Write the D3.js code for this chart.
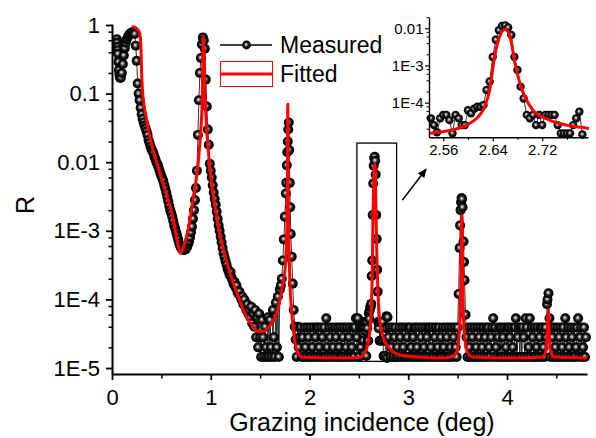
<!DOCTYPE html>
<html><head><meta charset="utf-8">
<script src="https://cdn.jsdelivr.net/npm/d3@7/dist/d3.min.js"></script>
<style>
html,body{margin:0;padding:0;background:#fff;}
svg{display:block;}
text{font-family:Arial,"Liberation Sans",Helvetica,sans-serif;fill:#000;}
</style></head><body>
<svg id="chart" width="596" height="438"></svg>
<script>
// ---------------- DATA ----------------
// Measured reflectivity, x = 0.05 ... 2.53 deg, step 0.01
const measuredStartA = 0.05, measuredStepA = 0.01;
const measuredA = [
 0.62,0.38,0.22,0.17,0.17,0.2,0.27,0.36,0.46,0.55,
 0.62,0.67,0.71,0.74,0.76,0.78,0.79,0.78,0.74,0.5,
 0.3,0.14,0.1,0.08,0.062,0.05,0.043,0.038,0.034,0.031,
 0.028,0.025,0.021,0.019,0.017,0.0155,0.0145,0.0135,0.012,0.011,
 0.01,0.0093,0.0086,0.0077,0.0069,0.0063,0.0058,0.0053,0.0046,0.0041,
 0.0036,0.0031,0.0027,0.0023,0.002,0.0018,0.0016,0.0014,0.0012,0.00108,
 0.00095,0.00085,0.00075,0.00066,0.0006,0.00056,0.00054,0.00053,0.00053,0.00053,
 0.00055,0.00058,0.00063,0.0007,0.0008,0.00095,0.00115,0.0015,0.002,0.0028,
 0.0042,0.0075,0.025,0.08,0.2,0.33,0.52,0.66,0.6,0.45,
 0.16,0.065,0.03,0.018,0.0095,0.0075,0.006,0.0046,0.0036,0.0029,
 0.0024,0.0019,0.0015,0.0012,0.001,0.00082,0.00068,0.00056,0.00047,0.00041,
 0.00036,0.00032,0.00028,0.00026,0.00023,0.00025,0.00021,0.00019,0.00017,0.00018,
 0.00015,0.00016,0.00013,0.00012,0.00013,0.00011,0.0001,0.00011,0.000085,0.0001,
 0.000078,0.00007,0.000085,0.000062,0.00007,0.000055,0.000078,0.000045,0.000062,0.00004,
 0.00007,0.000028,0.000055,0.00002,0.000062,0.000028,0.0000145,0.00005,0.000028,0.0000145,
 0.00004,0.00002,0.0000145,0.000055,0.0000145,0.00005,0.00002,0.0000145,0.00007,0.000028,
 0.0000145,0.00009,0.00002,0.00011,0.0000145,0.00014,0.00016,0.0002,0.00037,0.00075,
 0.0016,0.0035,0.009,0.02,0.038,0.005,0.0009,0.00042,0.00017,0.00007,
 0.00004,0.000026,0.0000145,0.00004,0.00002,0.000028,0.000039,0.0000145,0.000028,0.0000145,
 3.9e-5,2e-5,1.45e-5,3.9e-5,2.8e-5,1.45e-5,3.9e-5,1.45e-5,2e-5,3.9e-5,
 1.45e-5,2.8e-5,3.9e-5,1.45e-5,3.9e-5,2e-5,1.45e-5,3.9e-5,2.8e-5,1.45e-5,
 3.9e-5,1.45e-5,5.3e-5,2e-5,1.45e-5,3.9e-5,2.8e-5,1.45e-5,3.9e-5,2e-5,
 1.45e-5,3.9e-5,2.8e-5,1.45e-5,3.9e-5,2e-5,1.45e-5,3.9e-5,1.45e-5,2.8e-5,
 3.9e-5,1.45e-5,2e-5,3.9e-5,1.45e-5,2.8e-5,3.9e-5,1.45e-5,2e-5,3.9e-5,
 1.45e-5,3.9e-5,5.3e-5,2.8e-5,5.3e-5,1.45e-5,3.9e-5,2e-5,3.9e-5
];
// Measured around the 3rd peak (shown in the inset), x = 2.540 ... 2.785, step 0.005
const measuredStartP = 2.54, measuredStepP = 0.005;
const measuredPeak = [
 3.8e-5,2.5e-5,1.6e-5,3.8e-5,4.7e-5,4.7e-5,3.4e-5,1.5e-5,4.7e-5,3.8e-5,
 2.5e-5,2.5e-5,6.3e-5,5.2e-5,6.9e-5,7.8e-5,7.8e-5,8.6e-5,2.2e-4,3.7e-4,
 1.7e-3,4.9e-3,8.9e-3,0.0115,0.012,0.0105,6.6e-3,1.7e-3,7.6e-4,2.7e-4,
 1.3e-4,4.7e-5,3.8e-5,4.7e-5,2.5e-5,4.7e-5,2.5e-5,4.7e-5,4.7e-5,4.7e-5,
 4.7e-5,2.5e-5,1.5e-5,1.5e-5,1.5e-5,1.5e-5,2.5e-5,3.8e-5,5.7e-5,1.4e-5
];
// Measured, x = 2.79 ... 4.80, step 0.01
const measuredStartB = 2.79, measuredStepB = 0.01;
const measuredB = [
 5.5e-5,2.8e-5,3.9e-5,1.45e-5,2e-5,3.9e-5,
 1.45e-5,2.8e-5,3.9e-5,1.45e-5,2e-5,1.45e-5,3.9e-5,2.8e-5,1.45e-5,3.9e-5,
 2e-5,1.45e-5,3.9e-5,1.45e-5,2.8e-5,3.9e-5,1.45e-5,3.9e-5,2e-5,1.45e-5,
 2.8e-5,3.9e-5,1.45e-5,3.9e-5,2e-5,1.45e-5,3.9e-5,1.45e-5,2.8e-5,3.9e-5,
 1.45e-5,2e-5,3.9e-5,1.45e-5,2.8e-5,3.9e-5,1.45e-5,3.9e-5,2e-5,1.45e-5,
 3.9e-5,1.45e-5,2.8e-5,3.9e-5,1.45e-5,2e-5,3.9e-5,1.45e-5,2.8e-5,1.45e-5,
 3.9e-5,2e-5,1.45e-5,3.9e-5,2.8e-5,1.45e-5,3.9e-5,1.45e-5,2e-5,3.9e-5,
 1.45e-5,2.8e-5,3.9e-5,2e-5,1.45e-5,3.9e-5,1.2e-4,5.6e-4,2.0e-3,3.0e-3,
 2.2e-3,7e-4,1.9e-4,6e-5,2.8e-5,1.45e-5,3.9e-5,2e-5,1.45e-5,3.9e-5,
 2.8e-5,1.45e-5,3.9e-5,1.45e-5,2e-5,3.9e-5,1.45e-5,2.8e-5,3.9e-5,1.45e-5,
 2e-5,3.9e-5,1.45e-5,2.8e-5,3.9e-5,1.45e-5,3.9e-5,2e-5,1.45e-5,2.8e-5,
 3.9e-5,5.3e-5,1.45e-5,3.9e-5,2e-5,1.45e-5,2.8e-5,3.9e-5,1.45e-5,3.9e-5,
 1.45e-5,2.8e-5,3.9e-5,1.45e-5,2e-5,3.9e-5,1.45e-5,3.9e-5,2.8e-5,1.45e-5,
 3.9e-5,2e-5,1.45e-5,3.9e-5,5.3e-5,1.45e-5,2.8e-5,3.9e-5,1.45e-5,3.9e-5,
 1.45e-5,3.9e-5,2.8e-5,1.45e-5,5.3e-5,3.9e-5,1.45e-5,2e-5,5.3e-5,1.45e-5,
 3.9e-5,2.8e-5,1.45e-5,3.9e-5,1.45e-5,2e-5,3.9e-5,1.45e-5,2.8e-5,3.9e-5,
 1.45e-5,3.9e-5,2e-5,1.45e-5,3.9e-5,2.8e-5,1.0e-4,1.23e-4,5.3e-5,1.45e-5,
 3.9e-5,2.8e-5,1.45e-5,3.9e-5,2e-5,1.45e-5,3.9e-5,1.45e-5,2.8e-5,3.9e-5,
 1.45e-5,2e-5,3.9e-5,1.45e-5,5.3e-5,2.8e-5,1.45e-5,3.9e-5,2e-5,1.45e-5,
 3.9e-5,2.8e-5,1.45e-5,3.9e-5,1.45e-5,2e-5,3.9e-5,5.3e-5,1.45e-5,2.8e-5,
 3.9e-5,1.45e-5,2e-5,3.9e-5,1.45e-5,2.8e-5
];
// Extra measured points on the start and on the sharp peaks
const detailX = [0.052,0.055,0.058,0.065,0.075,1.765,1.775,1.785,1.795,1.805,3.525,3.535,3.545,3.565,4.405];
const detailR = [0.55,0.48,0.43,0.29,0.19,0.005,0.014,0.03,0.015,0.0022,1.2e-3,2.6e-3,2.9e-3,3.5e-4,8.5e-5];

// Fitted curve
const fitX = [0.20,0.23,0.25,0.27,0.28,0.29,0.295,0.30,0.31,0.32,0.335,0.36,0.385,0.41,0.436,0.46,0.486,0.51,0.537,0.56,
 0.588,0.615,0.64,0.66,0.68,0.69,0.70,0.72,0.75,0.78,0.81,0.84,0.86,0.875,0.89,0.90,0.91,0.915,0.92,0.925,
 0.93,0.935,0.94,0.95,0.96,0.975,0.99,1.01,1.03,1.06,1.08,1.11,1.15,1.19,1.23,1.28,1.33,1.38,1.43,1.48,
 1.53,1.57,1.62,1.66,1.69,1.72,1.74,1.755,1.765,1.772,1.777,1.78,1.783,1.788,1.795,1.80,1.81,1.83,1.85,1.88,
 1.92,2.1,2.4,2.5,2.539,2.571,2.598,2.614,2.627,2.635,2.643,2.651,2.66,2.668,2.676,2.684,2.692,2.705,2.732,2.759,
 2.791,2.85,2.95,3.1,3.3,3.44,3.49,3.51,3.525,3.533,3.538,3.542,3.546,3.551,3.558,3.575,3.6,3.65,4.0,4.36,
 4.395,4.408,4.417,4.426,4.44,4.48,4.81];
const fitR = [0.94,0.93,0.89,0.82,0.75,0.58,0.38,0.2,0.105,0.075,0.055,0.035,0.023,0.016,0.012,0.0092,0.0069,0.0052,0.004,0.0031,
 0.0023,0.0016,0.00105,0.00072,0.00053,0.00047,0.00048,0.00056,0.00078,0.0012,0.0023,0.0043,0.0068,0.0105,0.019,0.03,0.055,0.1,0.3,0.68,
 0.5,0.22,0.11,0.05,0.028,0.015,0.0085,0.0048,0.003,0.0016,0.0011,0.00068,0.0004,0.00026,0.00017,0.00011,0.00007,0.00005,0.00004,0.000034,
 0.000034,0.000037,0.000046,0.00006,0.000085,0.00014,0.0002,0.0003,0.0006,0.0015,0.006,0.07,0.006,0.0012,0.0004,0.0002,0.0001,0.000045,0.000025,0.000017,
 0.0000145,0.0000141,0.000014,0.0000143,0.000015,0.000018,0.000025,0.000038,0.000078,0.00022,0.0017,0.0059,0.0094,0.0059,0.00115,0.00033,0.000145,0.000063,0.000034,0.000025,
 0.000021,0.000017,0.0000152,0.0000145,0.000014,0.0000145,0.000017,0.000025,0.00006,0.0002,0.0008,0.0017,0.0008,0.0002,0.00006,0.000025,0.000017,0.0000145,0.000014,0.0000143,
 0.000018,0.000035,0.00007,0.000035,0.000018,0.0000145,0.000014];

// Axis ticks
const yMajor = [1,0.1,0.01,1e-3,1e-4,1e-5];
const yMajorLabels = ['1','0.1','0.01','1E-3','1E-4','1E-5'];
const xMajor = [0,1,2,3,4];
const xMinor = [0.5,1.5,2.5,3.5,4.5];
const insetYMajor = [0.01,1e-3,1e-4];
const insetYLabels = ['0.01','1E-3','1E-4'];
const insetXMajor = [2.56,2.64,2.72];
const insetXMinor = [2.60,2.68,2.76];
const legendLabels = ['Measured','Fitted'];
const axisTitleX = 'Grazing incidence (deg)';
const axisTitleY = 'R';

// ---------------- BUILD ----------------
const measured = [];
measuredA.forEach((r,i)=>measured.push([measuredStartA+i*measuredStepA, r]));
measuredPeak.forEach((r,i)=>measured.push([measuredStartP+i*measuredStepP, r]));
measuredB.forEach((r,i)=>measured.push([measuredStartB+i*measuredStepB, r]));
detailX.forEach((v,i)=>measured.push([v, detailR[i]]));
measured.sort((a,b)=>a[0]-b[0]);
const fitted = fitX.map((v,i)=>[v, fitR[i]]);

function minorLog(lo, hi){
  const out=[];
  for(let e=-6;e<=0;e++){ [2,4,6,8].forEach(m=>{const v=m*Math.pow(10,e); if(v>lo&&v<hi) out.push(v);}); }
  return out;
}

const svg = d3.select('#chart');
const defs = svg.append('defs');
const grad = defs.append('radialGradient').attr('id','ball')
  .attr('cx','50%').attr('cy','50%').attr('r','50%').attr('fx','44%').attr('fy','42%');
[[0,'#e8e8e8'],[0.18,'#b8b8b8'],[0.38,'#505050'],[0.6,'#101010'],[1,'#000']].forEach(s=>
  grad.append('stop').attr('offset',s[0]).attr('stop-color',s[1]));
defs.append('marker').attr('id','arrowhead').attr('viewBox','0 0 10 10')
  .attr('refX',9).attr('refY',5).attr('markerWidth',10).attr('markerHeight',9)
  .attr('markerUnits','userSpaceOnUse').attr('orient','auto')
  .append('path').attr('d','M0,0.5 L10,5 L0,9.5 Z').attr('fill','#000');

// Main scales
const x = d3.scaleLinear().domain([0,4.81]).range([112,587]);
const y = d3.scaleLog().domain([8.18e-6,1.034]).range([374,24]);

// Rectangle around peak 3 and arrow to inset
svg.append('rect')
  .attr('x',x(2.48)).attr('y',y(0.019))
  .attr('width',x(2.882)-x(2.48)).attr('height',y(1.25e-5)-y(0.019))
  .attr('fill','none').attr('stroke','#000').attr('stroke-width',1.3);
svg.append('line')
  .attr('x1',x(2.94)).attr('y1',y(0.0028)).attr('x2',x(3.18)).attr('y2',y(0.0079))
  .attr('stroke','#000').attr('stroke-width',1.6).attr('marker-end','url(#arrowhead)');

// Measured line + markers
const lineM = d3.line().x(d=>x(d[0])).y(d=>y(d[1]));
svg.append('path').datum(measured).attr('d',lineM)
  .attr('fill','none').attr('stroke','#000').attr('stroke-width',0.8);
svg.append('g').selectAll('circle').data(measured).join('circle')
  .attr('cx',d=>x(d[0])).attr('cy',d=>y(d[1])).attr('r',5).attr('fill','url(#ball)');

// Fitted
const lineF = d3.line().x(d=>x(d[0])).y(d=>y(d[1])).curve(d3.curveMonotoneX);
svg.append('path').datum(fitted).attr('d',lineF)
  .attr('fill','none').attr('stroke','#ff0000').attr('stroke-width',3).attr('stroke-linejoin','round');

// Axes
function styleAxis(g, fs, sw, tw){
  g.selectAll('.domain').attr('stroke','#000').attr('stroke-width',sw);
  g.selectAll('.tick line').attr('stroke','#000').attr('stroke-width',tw);
  g.selectAll('.tick text').attr('font-size',fs).attr('fill','#000')
    .attr('font-family','Arial, "Liberation Sans", sans-serif');
}
const gyMin = svg.append('g').attr('transform','translate(112,0)')
  .call(d3.axisLeft(y).tickValues(minorLog(8.18e-6,1)).tickSize(3.5).tickFormat(''));
gyMin.select('.domain').remove();
gyMin.selectAll('.tick line').attr('stroke','#000').attr('stroke-width',1.5);
const gy = svg.append('g').attr('transform','translate(112,0)')
  .call(d3.axisLeft(y).tickValues(yMajor).tickSize(6).tickSizeOuter(0).tickPadding(6)
    .tickFormat((d,i)=>yMajorLabels[i]));
styleAxis(gy,22,2,1.8);
const gxMin = svg.append('g').attr('transform','translate(0,374)')
  .call(d3.axisBottom(x).tickValues(xMinor).tickSize(4.5).tickFormat(''));
gxMin.select('.domain').remove();
gxMin.selectAll('.tick line').attr('stroke','#000').attr('stroke-width',1.5);
const gx = svg.append('g').attr('transform','translate(0,374)')
  .call(d3.axisBottom(x).tickValues(xMajor).tickSize(6).tickSizeOuter(0).tickPadding(9)
    .tickFormat(d3.format('d')));
styleAxis(gx,22,2,1.8);

svg.append('text').attr('x',362).attr('y',431).attr('text-anchor','middle')
  .attr('font-size',25).text(axisTitleX);
svg.append('text').attr('transform','translate(34,205) rotate(-90)').attr('text-anchor','middle')
  .attr('font-size',25).text(axisTitleY);

// Legend
const lg = svg.append('g');
lg.append('line').attr('x1',220).attr('x2',272).attr('y1',45).attr('y2',45)
  .attr('stroke','#000').attr('stroke-width',1.6);
lg.append('circle').attr('cx',246.5).attr('cy',45).attr('r',4.4).attr('fill','url(#ball)');
lg.append('text').attr('x',280).attr('y',53).attr('font-size',23).text(legendLabels[0]);
lg.append('rect').attr('x',220.5).attr('y',61.5).attr('width',52).attr('height',25)
  .attr('fill','none').attr('stroke','#ff0000').attr('stroke-width',1);
lg.append('line').attr('x1',220).attr('x2',273).attr('y1',74).attr('y2',74)
  .attr('stroke','#ff0000').attr('stroke-width',3);
lg.append('text').attr('x',280).attr('y',82).attr('font-size',23).text(legendLabels[1]);

// ---------------- INSET ----------------
const xi = d3.scaleLinear().domain([2.537,2.794]).range([429,588]);
const yi = d3.scaleLog().domain([1.175e-5,0.0201]).range([137.3,17]);
defs.append('clipPath').attr('id','insetclip').append('rect')
  .attr('x',429).attr('y',10).attr('width',160).attr('height',128);
const insetMeasured = measured.filter(d=>d[0]>=2.537 && d[0]<2.789);
const insetFit = fitted.filter(d=>d[0]>=2.49 && d[0]<=2.86);
const lineMi = d3.line().x(d=>xi(d[0])).y(d=>yi(d[1]));
svg.append('path').datum(insetMeasured).attr('d',lineMi)
  .attr('fill','none').attr('stroke','#000').attr('stroke-width',0.8);
svg.append('g').selectAll('circle').data(insetMeasured).join('circle')
  .attr('cx',d=>xi(d[0])).attr('cy',d=>yi(d[1])).attr('r',4.2).attr('fill','url(#ball)');
const lineFi = d3.line().x(d=>xi(d[0])).y(d=>yi(d[1])).curve(d3.curveMonotoneX);
svg.append('path').datum(insetFit).attr('d',lineFi).attr('clip-path','url(#insetclip)')
  .attr('fill','none').attr('stroke','#ff0000').attr('stroke-width',3).attr('stroke-linejoin','round');

const giyMin = svg.append('g').attr('transform','translate(429,0)')
  .call(d3.axisLeft(yi).tickValues(minorLog(1.175e-5,0.0201)).tickSize(2.5).tickFormat(''));
giyMin.select('.domain').remove();
giyMin.selectAll('.tick line').attr('stroke','#000').attr('stroke-width',1);
const giy = svg.append('g').attr('transform','translate(429,0)')
  .call(d3.axisLeft(yi).tickValues(insetYMajor).tickSize(4).tickSizeOuter(0).tickPadding(1.5)
    .tickFormat((d,i)=>insetYLabels[i]));
styleAxis(giy,15,1.4,1.2);
const gixMin = svg.append('g').attr('transform','translate(0,137.3)')
  .call(d3.axisBottom(xi).tickValues(insetXMinor).tickSize(2.5).tickFormat(''));
gixMin.select('.domain').remove();
gixMin.selectAll('.tick line').attr('stroke','#000').attr('stroke-width',1);
const gix = svg.append('g').attr('transform','translate(0,137.3)')
  .call(d3.axisBottom(xi).tickValues(insetXMajor).tickSize(4).tickSizeOuter(0).tickPadding(3)
    .tickFormat(d3.format('.2f')));
styleAxis(gix,15,1.4,1.2);
</script>
</body></html>
